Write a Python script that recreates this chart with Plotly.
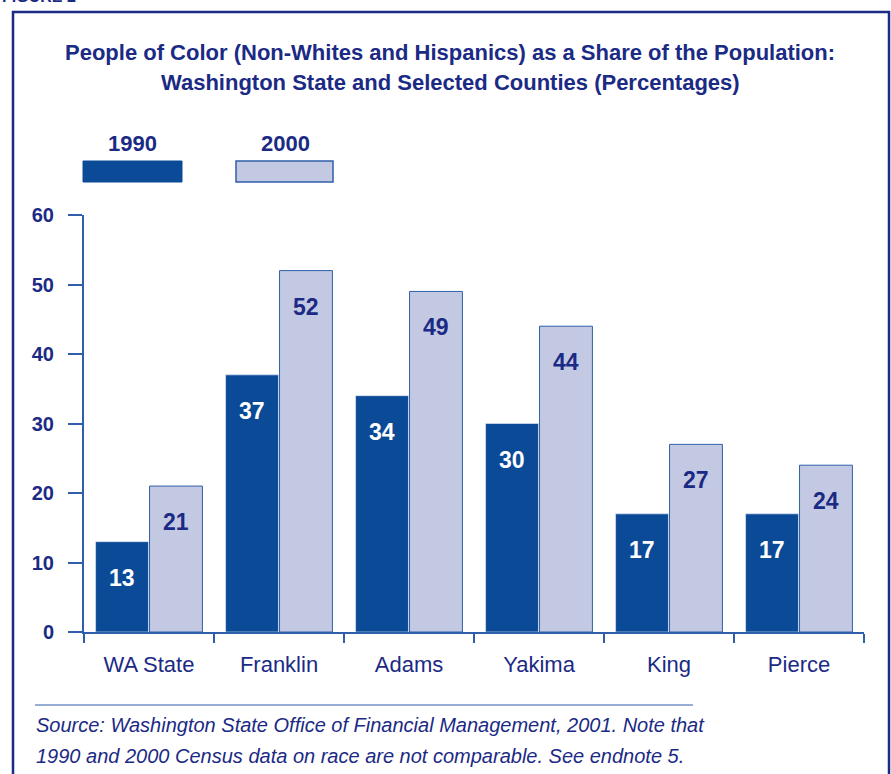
import plotly.graph_objects as go

# Share of population that is people of color (%)
categories = ["WA State", "Franklin", "Adams", "Yakima", "King", "Pierce"]
share_1990 = [13, 37, 34, 30, 17, 17]
share_2000 = [21, 52, 49, 44, 27, 24]
years = ["1990", "2000"]
y_ticks = [0, 10, 20, 30, 40, 50, 60]

title_lines = [
    "People of Color (Non-Whites and Hispanics) as a Share of the Population:",
    "Washington State and Selected Counties (Percentages)",
]
source_lines = [
    "Source: Washington State Office of Financial Management, 2001. Note that",
    "1990 and 2000 Census data on race are not comparable. See endnote 5.",
]

NAVY = "#1b2a84"
DARK = "#0b4a97"
LIGHT = "#c4c9e3"
EDGE = "#2f5fab"
FONT = "Liberation Sans, Arial, sans-serif"

W, H = 891, 774
L, R, T, B = 84, 27, 215, 142
pw, ph = W - L - R, H - T - B


def px(x):
    """page pixel x -> paper fraction"""
    return (x - L) / pw


def py(y):
    """page pixel y (from top) -> paper fraction"""
    return (H - B - y) / ph


fig = go.Figure()
fig.add_trace(go.Bar(x=categories, y=share_1990, name=years[0],
                     marker=dict(color=DARK, line=dict(color="#e8ecf6", width=0.6))))
fig.add_trace(go.Bar(x=categories, y=share_2000, name=years[1],
                     marker=dict(color=LIGHT, line=dict(color=EDGE, width=1))))

annotations = []
# value labels placed a fixed distance below each bar top
for i in range(len(categories)):
    for vals, off, col in ((share_1990, -0.21, "white"), (share_2000, 0.21, NAVY)):
        annotations.append(dict(x=i + off, y=vals[i], xref="x", yref="y",
                                text=str(vals[i]), showarrow=False, yshift=-36,
                                font=dict(size=23, color=col, family=FONT, weight="bold")))

# title, two lines
for line, ypix in zip(title_lines, (52, 82)):
    annotations.append(dict(x=px(450), y=py(ypix), xref="paper", yref="paper",
                            xanchor="center", yanchor="middle", text=line, showarrow=False,
                            font=dict(size=22, color=NAVY, family=FONT, weight="bold")))

# custom legend labels
for xpix, yr in ((132, years[0]), (285, years[1])):
    annotations.append(dict(x=px(xpix), y=py(143), xref="paper", yref="paper",
                            xanchor="center", yanchor="middle", text=yr, showarrow=False,
                            font=dict(size=22, color=NAVY, family=FONT, weight="bold")))

# source note, two lines
for line, ypix in zip(source_lines, (725, 756)):
    annotations.append(dict(x=px(34), y=py(ypix), xref="paper", yref="paper",
                            xanchor="left", yanchor="middle", text=line, showarrow=False,
                            font=dict(size=20, color=NAVY, family=FONT, style="italic")))

# figure heading, cropped at the top edge
annotations.append(dict(x=px(0), y=py(7), xref="paper", yref="paper", xanchor="left",
                        yanchor="bottom", text="FIGURE 2", showarrow=False,
                        font=dict(size=16, color=NAVY, family=FONT, weight="bold")))

shapes = [
    # legend swatches
    dict(type="rect", xref="paper", yref="paper", x0=px(83), x1=px(182), y0=py(182), y1=py(161),
         fillcolor=DARK, line=dict(color=DARK, width=1)),
    dict(type="rect", xref="paper", yref="paper", x0=px(236), x1=px(333), y0=py(182), y1=py(161),
         fillcolor=LIGHT, line=dict(color=EDGE, width=1.5)),
    # frame
    dict(type="rect", xref="paper", yref="paper", x0=px(13), x1=px(889), y0=py(790), y1=py(12),
         line=dict(color=NAVY, width=2.5)),
    # rule above the source note
    dict(type="line", xref="paper", yref="paper", x0=px(35), x1=px(693), y0=py(705), y1=py(705),
         line=dict(color=EDGE, width=1)),
    # y-axis extension below zero
    dict(type="line", xref="paper", yref="paper", x0=0, x1=0, y0=py(632), y1=py(641),
         line=dict(color=EDGE, width=2)),
]

fig.update_layout(
    width=W, height=H,
    margin=dict(l=L, r=R, t=T, b=B),
    paper_bgcolor="white", plot_bgcolor="white",
    barmode="group", bargap=0.17, bargroupgap=0.02,
    showlegend=False,
    font=dict(family=FONT, color=NAVY),
    xaxis=dict(showline=True, linecolor=EDGE, linewidth=2, ticks="outside", tickson="boundaries",
               ticklen=9, tickcolor=EDGE, tickwidth=2, ticklabelstandoff=12,
               tickfont=dict(size=22, color=NAVY, family=FONT), showgrid=False),
    yaxis=dict(range=[0, 60], tickvals=y_ticks, showline=True, linecolor=EDGE, linewidth=2,
               ticks="outside", ticklen=14, tickcolor=EDGE, tickwidth=2, showgrid=False,
               zeroline=False, ticklabelstandoff=10,
               tickfont=dict(size=20, color=NAVY, family=FONT, weight="bold")),
    annotations=annotations,
    shapes=shapes,
)

fig.write_html("out.html")
